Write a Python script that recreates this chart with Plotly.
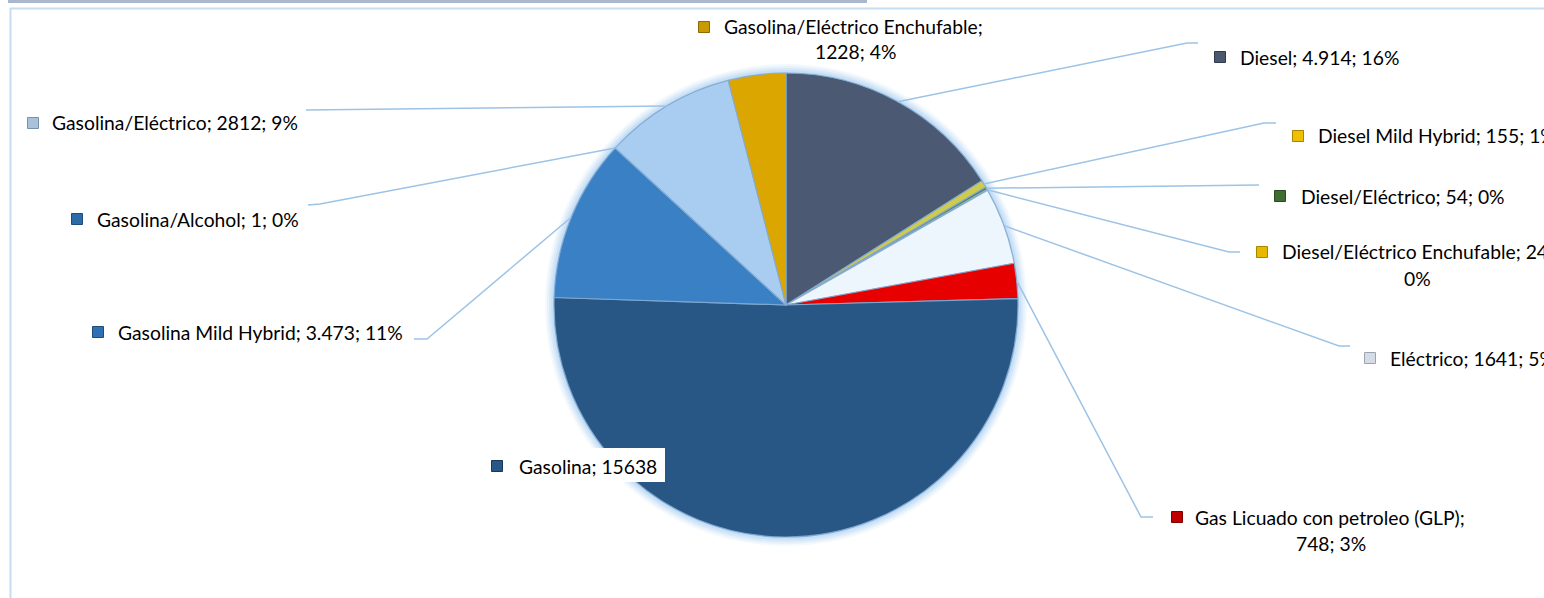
import math
import plotly.graph_objects as go

# ---------------- data ----------------
categories = ["Diesel", "Diesel Mild Hybrid", "Diesel/Eléctrico", "Diesel/Eléctrico Enchufable",
              "Eléctrico", "Gas Licuado con petroleo (GLP)", "Gasolina", "Gasolina Mild Hybrid",
              "Gasolina/Alcohol", "Gasolina/Eléctrico", "Gasolina/Eléctrico Enchufable"]
values = [4914, 155, 54, 24, 1641, 748, 15638, 3473, 1, 2812, 1228]
value_labels = ["4.914", "155", "54", "24", "1641", "748", "15638", "3.473", "1", "2812", "1228"]
pct_labels = ["16%", "1%", "0%", "0%", "5%", "3%", "", "11%", "0%", "9%", "4%"]

# ---------------- styles ----------------
slice_colors = ["#4b5a72", "#cfcb4c", "#4d7a3a", "#e2b400", "#eef6fd", "#e60000",
                "#285785", "#3a80c4", "#3a80c4", "#a9cdf0", "#dba600"]
key_colors = ["#4a5870", "#f0c000", "#3f6e30", "#e8b800", "#d6dce6", "#c00000",
              "#285785", "#2e70b2", "#2c6aa8", "#a9c1da", "#c89a00"]
key_lines = ["#2e3a4c", "#a88400", "#2a4a20", "#a88400", "#9aa4b2", "#800000",
             "#173858", "#1d4c7c", "#1d4c7c", "#7890a8", "#8a6a00"]

W, H = 1544, 598
CX, CY, R = 786, 305, 232
FONT = "Lato"
FS = 19.3
LEADER = "#9dc3e6"

# label layout (pixel positions): key-square centre, text left, optional leader elbow/end,
# optional second-line centre, break position (after n parts)
label_layout = {
    "Diesel": dict(m=(1220, 57), tx=1238, elbow=(1187, 43), end=(1198, 43)),
    "Diesel Mild Hybrid": dict(m=(1298, 136), tx=1316, elbow=(1264, 123), end=(1276, 123)),
    "Diesel/Eléctrico": dict(m=(1280, 196), tx=1299, elbow=(1259, 185), end=(1259, 185)),
    "Diesel/Eléctrico Enchufable": dict(m=(1262, 252), tx=1280, elbow=(1229, 252), end=(1240, 252),
                                        brk=2, c2=(1417, 278)),
    "Eléctrico": dict(m=(1370, 358), tx=1388, elbow=(1339, 346), end=(1350, 346)),
    "Gas Licuado con petroleo (GLP)": dict(m=(1177, 517), tx=1193, elbow=(1141, 517), end=(1153, 517),
                                           brk=1, c2=(1331, 543)),
    "Gasolina": dict(m=(497, 466), tx=517, box=(490, 448, 665, 482)),
    "Gasolina Mild Hybrid": dict(m=(98, 332), tx=116, elbow=(427, 339), end=(414, 339)),
    "Gasolina/Alcohol": dict(m=(77, 219), tx=95, elbow=(320, 204), end=(308, 205)),
    "Gasolina/Eléctrico": dict(m=(33, 123), tx=50, elbow=(306, 110), end=(306, 110)),
    "Gasolina/Eléctrico Enchufable": dict(m=(704, 27), tx=722, brk=1, c2=(855, 52)),
}


def px(x):
    return x / W


def py(y):
    return 1 - y / H


fig = go.Figure()

fig.add_trace(go.Pie(
    labels=categories, values=values, sort=False, direction="clockwise", rotation=0,
    marker=dict(colors=slice_colors, line=dict(color="rgba(130,170,210,0.9)", width=1.2)),
    textinfo="none", hoverinfo="label+value+percent", showlegend=False,
    domain=dict(x=[px(CX - R), px(CX + R)], y=[py(CY + R), py(CY - R)]),
))

shapes = []
annotations = []

# frame
shapes.append(dict(type="rect", xref="paper", yref="paper", x0=px(8), x1=px(867), y0=py(0), y1=py(3),
                   fillcolor="#a9b8cc", line=dict(width=0), layer="below"))
shapes.append(dict(type="line", xref="paper", yref="paper", x0=px(10), x1=px(W), y0=py(8.5), y1=py(8.5),
                   line=dict(color="#c6dcf1", width=2), layer="below"))
shapes.append(dict(type="line", xref="paper", yref="paper", x0=px(10.5), x1=px(10.5), y0=py(8), y1=py(H),
                   line=dict(color="#c6dcf1", width=2), layer="below"))

# glow around the pie
for k, a in [(9, 0.10), (7, 0.14), (5, 0.18), (3, 0.22), (1, 0.3)]:
    shapes.append(dict(type="circle", xref="paper", yref="paper",
                       x0=px(CX - R - k), x1=px(CX + R + k), y0=py(CY + R + k), y1=py(CY - R - k),
                       fillcolor=f"rgba(150,195,240,{a})", line=dict(width=0), layer="below"))

total = sum(values)
cum = 0.0
for i, cat in enumerate(categories):
    v = values[i]
    mid = (cum + v / 2) / total * 360.0
    cum += v
    lay = label_layout[cat]
    # leader line from slice edge
    if "elbow" in lay:
        sx = CX + R * math.sin(math.radians(mid))
        sy = CY - R * math.cos(math.radians(mid))
        ex, ey = lay["elbow"]
        hx, hy = lay["end"]
        path = f"M {px(sx)} {py(sy)} L {px(ex)} {py(ey)} L {px(hx)} {py(hy)}"
        shapes.append(dict(type="path", xref="paper", yref="paper", path=path,
                           line=dict(color=LEADER, width=1.5), layer="above"))
    if "box" in lay:
        x0, y0, x1, y1 = lay["box"]
        shapes.append(dict(type="rect", xref="paper", yref="paper", x0=px(x0), x1=px(x1),
                           y0=py(y1), y1=py(y0), fillcolor="white", line=dict(width=0), layer="above"))
    # legend key square
    mx, my = lay["m"]
    s = 5.5
    shapes.append(dict(type="rect", xref="paper", yref="paper", x0=px(mx - s), x1=px(mx + s),
                       y0=py(my + s), y1=py(my - s), fillcolor=key_colors[i],
                       line=dict(color=key_lines[i], width=1), layer="above"))
    # text
    parts = [cat, value_labels[i]] + ([pct_labels[i]] if pct_labels[i] else [])
    brk = lay.get("brk")
    if brk:
        line1 = "; ".join(parts[:brk]) + ";"
        line2 = "; ".join(parts[brk:])
    else:
        line1 = "; ".join(parts)
        line2 = None
    annotations.append(dict(xref="paper", yref="paper", x=px(lay["tx"]), y=py(my), text=line1,
                            xanchor="left", yanchor="middle", showarrow=False,
                            font=dict(family=FONT, size=FS, color="#000000")))
    if line2:
        cx2, cy2 = lay["c2"]
        annotations.append(dict(xref="paper", yref="paper", x=px(cx2), y=py(cy2), text=line2,
                                xanchor="center", yanchor="middle", showarrow=False,
                                font=dict(family=FONT, size=FS, color="#000000")))

fig.update_layout(
    width=W, height=H, autosize=False,
    margin=dict(l=0, r=0, t=0, b=0, pad=0),
    paper_bgcolor="white", plot_bgcolor="white",
    shapes=shapes, annotations=annotations, showlegend=False,
)

fig.write_html("out.html", config={"displayModeBar": False},
               post_script="document.body.style.margin='0px';document.body.style.overflow='hidden';")
